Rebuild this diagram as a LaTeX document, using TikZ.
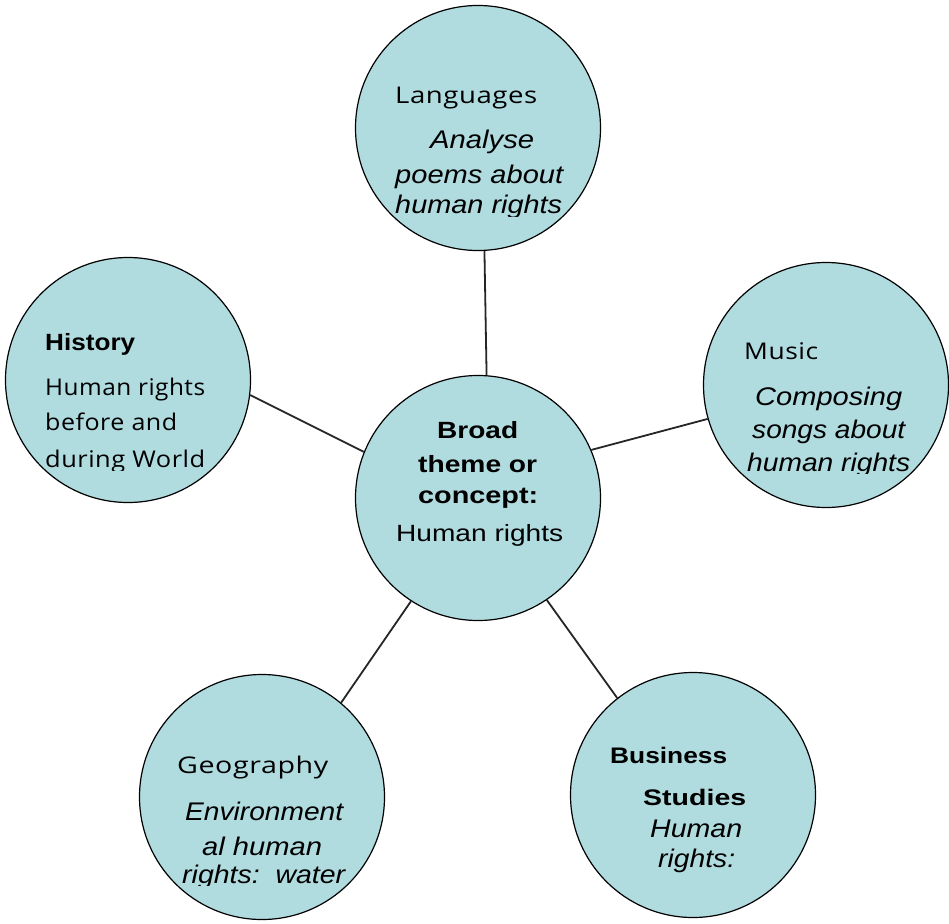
\documentclass[tikz,border=0pt]{standalone}
\usepackage{fontspec}
\usepackage{graphicx}
\setmainfont{Liberation Sans}
\newfontfamily\fsp{Open Sans}[LetterSpace=2]
\definecolor{bubfill}{RGB}{176,219,223}
\newcommand\fitw[2]{\resizebox{#1pt}{\height}{#2}}
\newcommand\fIt{\fontsize{25.5}{25.5}\selectfont\itshape}
\newcommand\fBd{\fontsize{23.5}{23.5}\selectfont\bfseries}
\newcommand\fBs{\fontsize{22.5}{22.5}\selectfont\bfseries}
\newcommand\fRg{\fontsize{23.5}{23.5}\selectfont}
\newcommand\fSp{\fsp\fontsize{23}{23}\selectfont}
\begin{document}
\begin{tikzpicture}[x=1pt,y=-1pt,
  bub/.style={circle, draw=black, line width=1.2pt, fill=bubfill, minimum size=245pt, inner sep=0pt},
  link/.style={line width=1.8pt, draw=black!85},
  txt/.style={inner sep=0pt, anchor=base west, text=black}]
\useasboundingbox[fill=white] (0,0) rectangle (949,923);
% circles
\node[bub] (lang) at (478,128) {};
\node[bub] (hist) at (128,380) {};
\node[bub] (music) at (826,385) {};
\node[bub] (ctr) at (478,498) {};
\node[bub] (geo) at (262,797) {};
\node[bub] (bus) at (693,795) {};
% connectors
\draw[link] (lang.-87.7) -- (ctr.86.8);
\draw[link] (hist.-7.8) -- (ctr.158.7);
\draw[link] (music.-164.6) -- (ctr.23.2);
\draw[link] (geo.50.3) -- (ctr.-123.7);
\draw[link] (bus.128.5) -- (ctr.-56.3);
% Languages
\node[txt] (lang1) at (395,103) {\fSp\fitw{142}{Languages}};
\node[txt] (lang2) at (430,148) {\fIt\fitw{104}{Analyse}};
\node[txt] (lang3) at (395,183) {\fIt\fitw{168}{poems about}};
\begin{scope}
\clip (380,190) rectangle (580,216);
\node[txt] (lang4) at (395,213) {\fIt\fitw{167}{human rights}};
\end{scope}
% History
\node[txt] (hist1) at (45,350) {\fBd\fitw{90}{History}};
\node[txt] (hist2) at (45,395) {\fSp\fitw{160}{Human rights}};
\node[txt] (hist3) at (45,430) {\fSp\fitw{132}{before and}};
\begin{scope}
\clip (30,440) rectangle (230,470);
\node[txt] (hist4) at (45,467) {\fSp\fitw{160}{during World}};
\end{scope}
% Music
\node[txt] (mus1) at (744,359) {\fSp\fitw{74}{Music}};
\node[txt] (mus2) at (755,405) {\fIt\fitw{147}{Composing}};
\node[txt] (mus3) at (752,438) {\fIt\fitw{153}{songs about}};
\begin{scope}
\clip (730,445) rectangle (930,473);
\node[txt] (mus4) at (747,471) {\fIt\fitw{163}{human rights}};
\end{scope}
% Centre
\node[txt] (ctr1) at (437,438) {\fBd\fitw{81}{Broad}};
\node[txt] (ctr2) at (418,472) {\fBd\fitw{119}{theme or}};
\node[txt] (ctr3) at (418,503) {\fBd\fitw{120}{concept:}};
\node[txt] (ctr4) at (396,541) {\fRg\fitw{167}{Human rights}};
% Geography
\node[txt] (geo1) at (177,773) {\fSp\fitw{151}{Geography}};
\node[txt] (geo2) at (185,820) {\fIt\fitw{158}{Environment}};
\node[txt] (geo3) at (202,855) {\fIt\fitw{120}{al human}};
\begin{scope}
\clip (160,860) rectangle (360,885);
\node[txt] (geo4) at (182,883) {\fIt\fitw{163}{rights:~~water}};
\end{scope}
% Business Studies
\node[txt] (bus1) at (610,763) {\fBs\fitw{117}{Business}};
\node[txt] (bus2) at (643,805) {\fBs\fitw{103}{Studies}};
\node[txt] (bus3) at (650,837) {\fIt\fitw{92}{Human}};
\node[txt] (bus4) at (658,867) {\fIt\fitw{77}{rights:}};
\end{tikzpicture}
\end{document}
